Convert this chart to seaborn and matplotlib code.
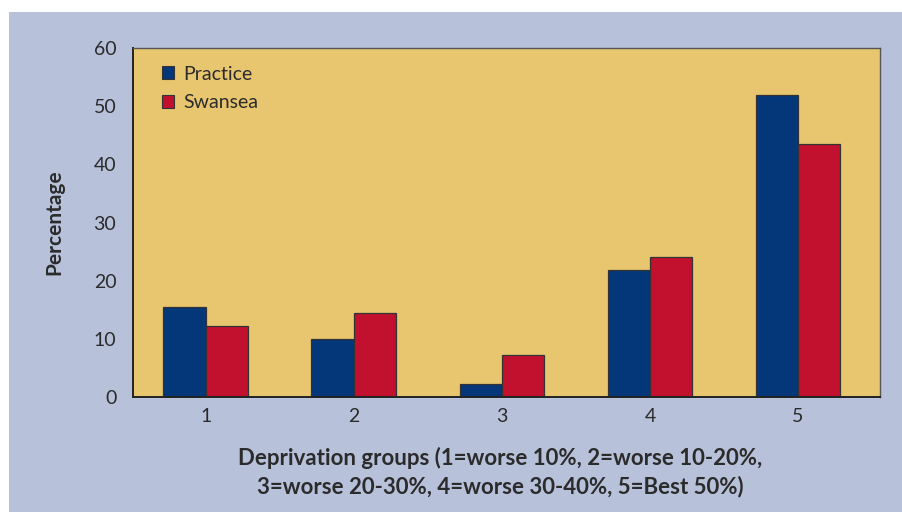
import matplotlib
matplotlib.use("Agg")
import matplotlib.pyplot as plt
import matplotlib.patches as mpatches
import seaborn as sns
import pandas as pd

groups = ["1", "2", "3", "4", "5"]
practice = [15.4, 10.0, 2.3, 21.8, 51.9]
swansea = [12.2, 14.4, 7.2, 24.1, 43.5]
series_names = ["Practice", "Swansea"]
y_ticks = [0, 10, 20, 30, 40, 50, 60]

colors = {"Practice": "#04367A", "Swansea": "#C1112F"}
panel_bg = "#B8C1DA"
plot_bg = "#E8C670"
text_color = "#2b2b2b"

sns.set_theme(style="white")
plt.rcParams["font.family"] = ["Lato", "DejaVu Sans"]

df = pd.DataFrame({
    "group": groups * 2,
    "value": practice + swansea,
    "series": [series_names[0]] * len(groups) + [series_names[1]] * len(groups),
})

fig = plt.figure(figsize=(9.03, 5.12), dpi=100)
fig.patch.set_facecolor("white")
fig.patches.append(mpatches.Rectangle((9 / 903, 0), 1, 1 - 12 / 512,
                                      transform=fig.transFigure,
                                      facecolor=panel_bg, edgecolor="none", zorder=-10))

ax = fig.add_axes([133 / 903, 1 - 397 / 512, 747 / 903, 349 / 512])
ax.set_facecolor(plot_bg)

sns.barplot(data=df, x="group", y="value", hue="series", order=groups,
            hue_order=series_names, palette=colors, saturation=1, width=0.574,
            edgecolor="#333333", linewidth=0.9, ax=ax, legend=False)

x_left, x_right = -0.493, len(groups) - 1 + 0.554
ax.set_xlim(x_left, x_right)
ax.set_ylim(0, 60)
ax.set_yticks(y_ticks)
ax.set_yticklabels([str(t) for t in y_ticks], fontsize=14, color=text_color)

# group labels at centres, tick marks at category boundaries
ax.set_xticks(range(len(groups)))
ax.set_xticklabels(groups, fontsize=14, color=text_color)
ax.tick_params(axis="x", length=0, pad=8)
boundaries = [x_left] + [i + 0.5 for i in range(len(groups) - 1)] + [x_right]
ax.set_xticks(boundaries, minor=True)
ax.tick_params(axis="x", which="minor", length=7, width=1.2, color="#333333", direction="out")
ax.tick_params(axis="y", length=7, width=1.2, color="#333333", direction="out", pad=5)

for side in ["left", "bottom"]:
    ax.spines[side].set_color("#222222")
    ax.spines[side].set_linewidth(1.4)
for side in ["top", "right"]:
    ax.spines[side].set_visible(True)
    ax.spines[side].set_color("#555555")
    ax.spines[side].set_linewidth(1.0)

ax.set_ylabel("Percentage", fontsize=15, fontweight="bold", color=text_color, labelpad=21)
ax.set_xlabel("Deprivation groups (1=worse 10%, 2=worse 10-20%,\n3=worse 20-30%, 4=worse 30-40%, 5=Best 50%)",
              fontsize=16, fontweight="bold", color=text_color, linespacing=1.4)
ax.xaxis.set_label_coords(0.492, -0.143, transform=ax.transAxes)
ax.xaxis.label.set_verticalalignment("top")

handles = [mpatches.Patch(facecolor=colors[s], edgecolor="#333333", linewidth=0.8, label=s)
           for s in series_names]
ax.legend(handles=handles, loc="upper left", bbox_to_anchor=(0.015, 1.0), frameon=False,
          fontsize=14, handlelength=0.65, handleheight=0.65, handletextpad=0.45,
          labelspacing=0.6, labelcolor=text_color)

fig.savefig("out.png", dpi=100, facecolor=fig.get_facecolor())
